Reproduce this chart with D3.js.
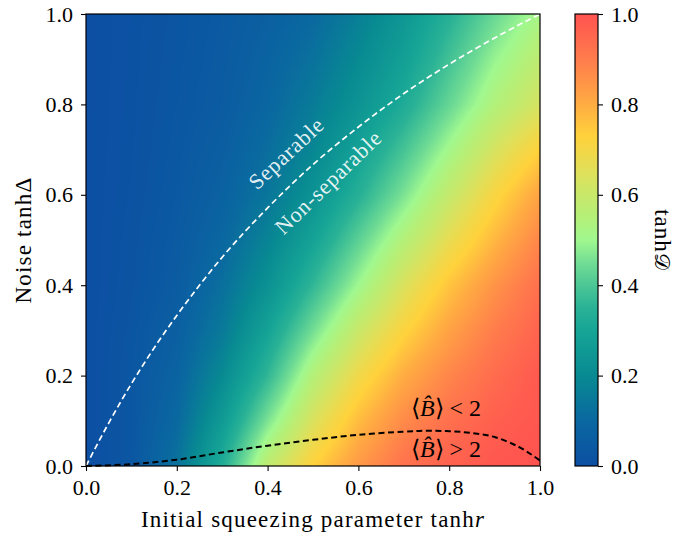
<!DOCTYPE html>
<html>
<head>
<meta charset="utf-8">
<script src="https://cdn.jsdelivr.net/npm/d3@7"></script>
<style>
  body { margin: 0; background: #fff; }
  svg text { font-family: "Liberation Serif", "Times New Roman", serif; }
</style>
</head>
<body>
<svg id="chart" width="675" height="538"></svg>
<script>
"use strict";

// grid of tanh(D): rows go up in tanh(Delta), columns go right in tanh(r)
const gridX = [0, 0.1, 0.2, 0.3, 0.4, 0.5, 0.6, 0.7, 0.8, 0.9, 1.0];
const gridY = [0, 0.1, 0.2, 0.3, 0.4, 0.5, 0.6, 0.7, 0.8, 0.9, 1.0];
const tanhD = [
  [0, 0.03, 0.13, 0.33, 0.58, 0.73, 0.84, 0.925, 0.965, 0.99, 1.0],
  [0, 0.03, 0.10, 0.26, 0.46, 0.64, 0.77, 0.87, 0.93, 0.97, 0.99],
  [0, 0.03, 0.08, 0.20, 0.36, 0.55, 0.69, 0.80, 0.88, 0.94, 0.985],
  [0, 0.025, 0.065, 0.15, 0.29, 0.45, 0.60, 0.72, 0.82, 0.90, 0.96],
  [0, 0.02, 0.05, 0.12, 0.225, 0.36, 0.50, 0.64, 0.755, 0.85, 0.93],
  [0, 0.018, 0.044, 0.095, 0.18, 0.29, 0.42, 0.55, 0.67, 0.78, 0.88],
  [0, 0.015, 0.038, 0.075, 0.14, 0.23, 0.34, 0.46, 0.59, 0.71, 0.82],
  [0, 0.013, 0.034, 0.062, 0.115, 0.19, 0.285, 0.39, 0.51, 0.63, 0.73],
  [0, 0.012, 0.03, 0.05, 0.092, 0.157, 0.233, 0.322, 0.433, 0.544, 0.63],
  [0, 0.011, 0.027, 0.046, 0.08, 0.128, 0.20, 0.28, 0.385, 0.49, 0.575],
  [0, 0.01, 0.025, 0.042, 0.067, 0.10, 0.167, 0.245, 0.34, 0.436, 0.52]
];

// separable / non-separable border (white dashed)
const sepX = [0, 0.05, 0.1, 0.15, 0.2, 0.3, 0.4, 0.5, 0.6, 0.7, 0.8, 0.9, 1.0];
const sepY = [0, 0.095, 0.182, 0.261, 0.333, 0.462, 0.571, 0.667, 0.75, 0.824, 0.889, 0.947, 1.0];

// <B> = 2 border (black dashed)
const bellX = [0, 0.1, 0.2, 0.3, 0.4, 0.5, 0.6, 0.7, 0.75, 0.8, 0.85, 0.9, 0.95, 0.98, 1.0];
const bellY = [0, 0.004, 0.014, 0.030, 0.045, 0.058, 0.069, 0.076, 0.078, 0.077, 0.073, 0.064, 0.044, 0.026, 0.012];

const ticks = [0, 0.2, 0.4, 0.6, 0.8, 1.0];

// colour map
const cmapStops = [0, 0.1, 0.2, 0.3, 0.35, 0.4, 0.45, 0.5, 0.55, 0.6, 0.65, 0.7, 0.73, 0.8, 0.9, 1.0];
const cmapColors = ["#0c4fa3", "#0a68a0", "#088a92", "#16a596", "#2ab296", "#4cc795", "#72dd94",
  "#a0f88f", "#b4f078", "#c8e86a", "#dfe05a", "#f4d646", "#ffd23c", "#ffac42", "#ff7c4c", "#ff5350"];

const serif = '"Liberation Serif", "Times New Roman", serif';
const pLeft = 86, pRight = 540, pTop = 14, pBottom = 466;
const cbLeft = 575, cbRight = 598;

const svg = d3.select("#chart");
const x = d3.scaleLinear().domain([0, 1]).range([pLeft, pRight]);
const y = d3.scaleLinear().domain([0, 1]).range([pBottom, pTop]);
const color = d3.scaleLinear().domain(cmapStops).range(cmapColors)
  .interpolate(d3.interpolateRgb).clamp(true);

/////////////////////////////////////////////////////
// heat map drawn into a canvas, then placed as an image
/////////////////////////////////////////////////////
function valueAt(px, py) {
  let i = Math.min(d3.bisectRight(gridX, px) - 1, gridX.length - 2);
  let j = Math.min(d3.bisectRight(gridY, py) - 1, gridY.length - 2);
  i = Math.max(i, 0); j = Math.max(j, 0);
  const tx = (px - gridX[i]) / (gridX[i + 1] - gridX[i]);
  const ty = (py - gridY[j]) / (gridY[j + 1] - gridY[j]);
  const a = tanhD[j][i], b = tanhD[j][i + 1];
  const c = tanhD[j + 1][i], d = tanhD[j + 1][i + 1];
  return (a * (1 - tx) + b * tx) * (1 - ty) + (c * (1 - tx) + d * tx) * ty;
}

const W = pRight - pLeft, H = pBottom - pTop;
const canvas = document.createElement("canvas");
canvas.width = W; canvas.height = H;
const ctx = canvas.getContext("2d");
const img = ctx.createImageData(W, H);
for (let r = 0; r < H; r++) {
  for (let c = 0; c < W; c++) {
    const v = valueAt(x.invert(pLeft + c + 0.5), y.invert(pTop + r + 0.5));
    const col = d3.rgb(color(v));
    const k = (r * W + c) * 4;
    img.data[k] = col.r; img.data[k + 1] = col.g; img.data[k + 2] = col.b; img.data[k + 3] = 255;
  }
}
ctx.putImageData(img, 0, 0);

svg.append("image")
  .attr("x", pLeft).attr("y", pTop)
  .attr("width", W).attr("height", H)
  .attr("preserveAspectRatio", "none")
  .attr("href", canvas.toDataURL());

/////////////////////////////////////////////////////
// the two borders
/////////////////////////////////////////////////////
svg.append("path")
  .datum(d3.zip(sepX, sepY))
  .attr("d", d3.line().x(d => x(d[0])).y(d => y(d[1])).curve(d3.curveMonotoneX))
  .attr("fill", "none")
  .attr("stroke", "#fff")
  .attr("stroke-width", 1.7)
  .attr("stroke-dasharray", "6,3.5");

svg.append("path")
  .datum(d3.zip(bellX, bellY))
  .attr("d", d3.line().x(d => x(d[0])).y(d => y(d[1])).curve(d3.curveCatmullRom))
  .attr("fill", "none")
  .attr("stroke", "#000")
  .attr("stroke-width", 2)
  .attr("stroke-dasharray", "6,3.5");

/////////////////////////////////////////////////////
// region labels
/////////////////////////////////////////////////////
svg.append("text")
  .attr("transform", "translate(288,155) rotate(-43)")
  .attr("text-anchor", "middle").attr("dominant-baseline", "middle")
  .attr("fill", "#fff").attr("fill-opacity", 0.9)
  .style("font-family", serif)
  .style("font-size", "22px").style("letter-spacing", "0.8px")
  .text("Separable");

svg.append("text")
  .attr("transform", "translate(330,184) rotate(-44)")
  .attr("text-anchor", "middle").attr("dominant-baseline", "middle")
  .attr("fill", "#fff").attr("fill-opacity", 0.9)
  .style("font-family", serif)
  .style("font-size", "22px").style("letter-spacing", "0.8px")
  .text("Non-separable");

function bellLabel(cx, cy, sign) {
  const t = svg.append("text")
    .attr("x", cx).attr("y", cy)
    .attr("text-anchor", "middle").attr("dominant-baseline", "middle")
    .style("font-family", serif)
    .style("font-size", "24px");
  t.append("tspan").text("\u27E8");
  t.append("tspan").style("font-style", "italic").text("B\u0302");
  t.append("tspan").text("\u27E9 " + sign + " 2");
}
bellLabel(446, 410, "<");
bellLabel(446, 451, ">");

/////////////////////////////////////////////////////
// frame and axes
/////////////////////////////////////////////////////
svg.append("rect")
  .attr("x", pLeft).attr("y", pTop).attr("width", W).attr("height", H)
  .attr("fill", "none").attr("stroke", "#000").attr("stroke-width", 1.2);

const fmt = d3.format(".1f");
const xAxis = svg.append("g")
  .attr("transform", `translate(0,${pBottom})`)
  .call(d3.axisBottom(x).tickValues(ticks).tickFormat(fmt).tickSize(5).tickPadding(8));
const yAxis = svg.append("g")
  .attr("transform", `translate(${pLeft},0)`)
  .call(d3.axisLeft(y).tickValues(ticks).tickFormat(fmt).tickSize(5).tickPadding(8));

function styleAxis(g) {
  g.attr("font-family", null).attr("font-size", null);
  g.select(".domain").remove();
  g.selectAll("line").attr("stroke", "#000").attr("stroke-width", 1.1);
  g.selectAll("text")
    .style("font-family", serif)
    .style("font-size", "22px")
    .attr("fill", "#000");
}
styleAxis(xAxis);
styleAxis(yAxis);

const xl = svg.append("text")
  .attr("x", (pLeft + pRight) / 2).attr("y", 527)
  .attr("text-anchor", "middle")
  .style("font-family", serif)
  .style("font-size", "23px").style("letter-spacing", "1.2px");
xl.append("tspan").text("Initial squeezing parameter tanh");
xl.append("tspan").style("font-style", "italic").text("r");

svg.append("text")
  .attr("transform", `translate(31,${(pTop + pBottom) / 2}) rotate(-90)`)
  .attr("text-anchor", "middle")
  .style("font-family", serif)
  .style("font-size", "23px").style("letter-spacing", "1.2px")
  .text("Noise tanh\u0394");

/////////////////////////////////////////////////////
// colour bar
/////////////////////////////////////////////////////
const grad = svg.append("defs").append("linearGradient")
  .attr("id", "cbar").attr("x1", 0).attr("y1", 1).attr("x2", 0).attr("y2", 0);
grad.selectAll("stop")
  .data(cmapStops)
  .enter()
  .append("stop")
  .attr("offset", d => d)
  .attr("stop-color", (d, i) => cmapColors[i]);

svg.append("rect")
  .attr("x", cbLeft).attr("y", pTop).attr("width", cbRight - cbLeft).attr("height", H)
  .attr("fill", "url(#cbar)").attr("stroke", "#000").attr("stroke-width", 1.2);

const cbAxis = svg.append("g")
  .attr("transform", `translate(${cbRight},0)`)
  .call(d3.axisRight(y).tickValues(ticks).tickFormat(fmt).tickSize(5).tickPadding(8));
styleAxis(cbAxis);

const cl = svg.append("text")
  .attr("transform", `translate(655,${(pTop + pBottom) / 2}) rotate(90)`)
  .attr("text-anchor", "middle")
  .style("font-family", serif)
  .style("font-size", "23px").style("letter-spacing", "1px");
cl.append("tspan").text("tanh");
cl.append("tspan").style("font-size", "21px").text("\uD835\uDC9F");
</script>
</body>
</html>
